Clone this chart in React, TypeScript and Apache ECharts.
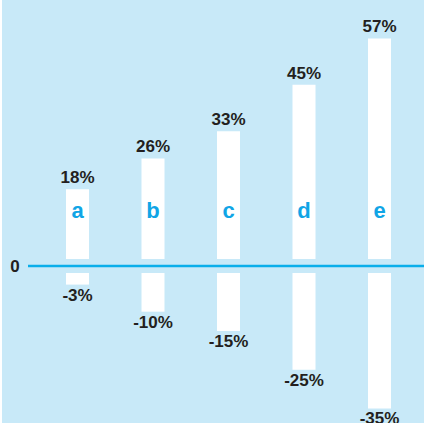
import React, { useEffect, useRef } from "react";
import * as echarts from "echarts";

const categories = ["a", "b", "c", "d", "e"];
const gains = [18, 26, 33, 45, 57];
const losses = [-3, -10, -15, -25, -35];

export default function App() {
  const ref = useRef<HTMLDivElement>(null);
  useEffect(() => {
    if (!ref.current) return;
    const chart = echarts.init(ref.current, null, { renderer: "svg" });
    const font = "'Liberation Sans', Arial, sans-serif";
    const k = 3.87;
    const gLeft = 37.75;
    const gWidth = 377.5;
    chart.setOption({
      animation: false,
      backgroundColor: "#c8e9f8",
      textStyle: { fontFamily: font },
      grid: [
        { left: gLeft, width: gWidth, top: 259 - 60 * k, height: 60 * k },
        { left: gLeft, width: gWidth, top: 273, height: 35 * k },
      ],
      xAxis: [
        {
          type: "category",
          data: categories,
          gridIndex: 0,
          z: 10,
          axisLine: { show: false },
          axisTick: { show: false },
          axisLabel: {
            margin: -60,
            color: "#10a5e6",
            fontSize: 22,
            fontWeight: "bold",
            fontFamily: font,
          },
        },
        {
          type: "category",
          data: categories,
          gridIndex: 1,
          show: false,
        },
      ],
      yAxis: [
        { type: "value", gridIndex: 0, min: 0, max: 60, show: false },
        { type: "value", gridIndex: 1, min: -35, max: 0, show: false },
      ],
      series: [
        {
          type: "bar",
          xAxisIndex: 0,
          yAxisIndex: 0,
          data: gains,
          barWidth: 23,
          itemStyle: { color: "#ffffff" },
          label: {
            show: true,
            position: "top",
            distance: 3,
            formatter: "{c}%",
            color: "#231f20",
            fontSize: 17,
            fontWeight: "bold",
            fontFamily: font,
          },
        },
        {
          type: "bar",
          xAxisIndex: 1,
          yAxisIndex: 1,
          data: losses,
          barWidth: 23,
          itemStyle: { color: "#ffffff" },
          label: {
            show: true,
            position: "bottom",
            distance: 2,
            formatter: "{c}%",
            color: "#231f20",
            fontSize: 17,
            fontWeight: "bold",
            fontFamily: font,
          },
        },
      ],
      graphic: [
        {
          type: "line",
          shape: { x1: 26, y1: 266, x2: 422, y2: 266 },
          style: { stroke: "#0aaeea", lineWidth: 2.5 },
          z: 5,
        },
        {
          type: "text",
          x: 13,
          y: 266,
          style: {
            text: "0",
            fill: "#231f20",
            font: `bold 17px ${font}`,
            align: "center",
            verticalAlign: "middle",
          },
        },
      ],
    });
    return () => chart.dispose();
  }, []);
  return (
    <div style={{ position: "fixed", left: 0, top: 0, width: 424, height: 423, background: "#ffffff" }}>
      <div ref={ref} style={{ position: "absolute", left: 2, top: 0, width: 422, height: 423 }} />
    </div>
  );
}
